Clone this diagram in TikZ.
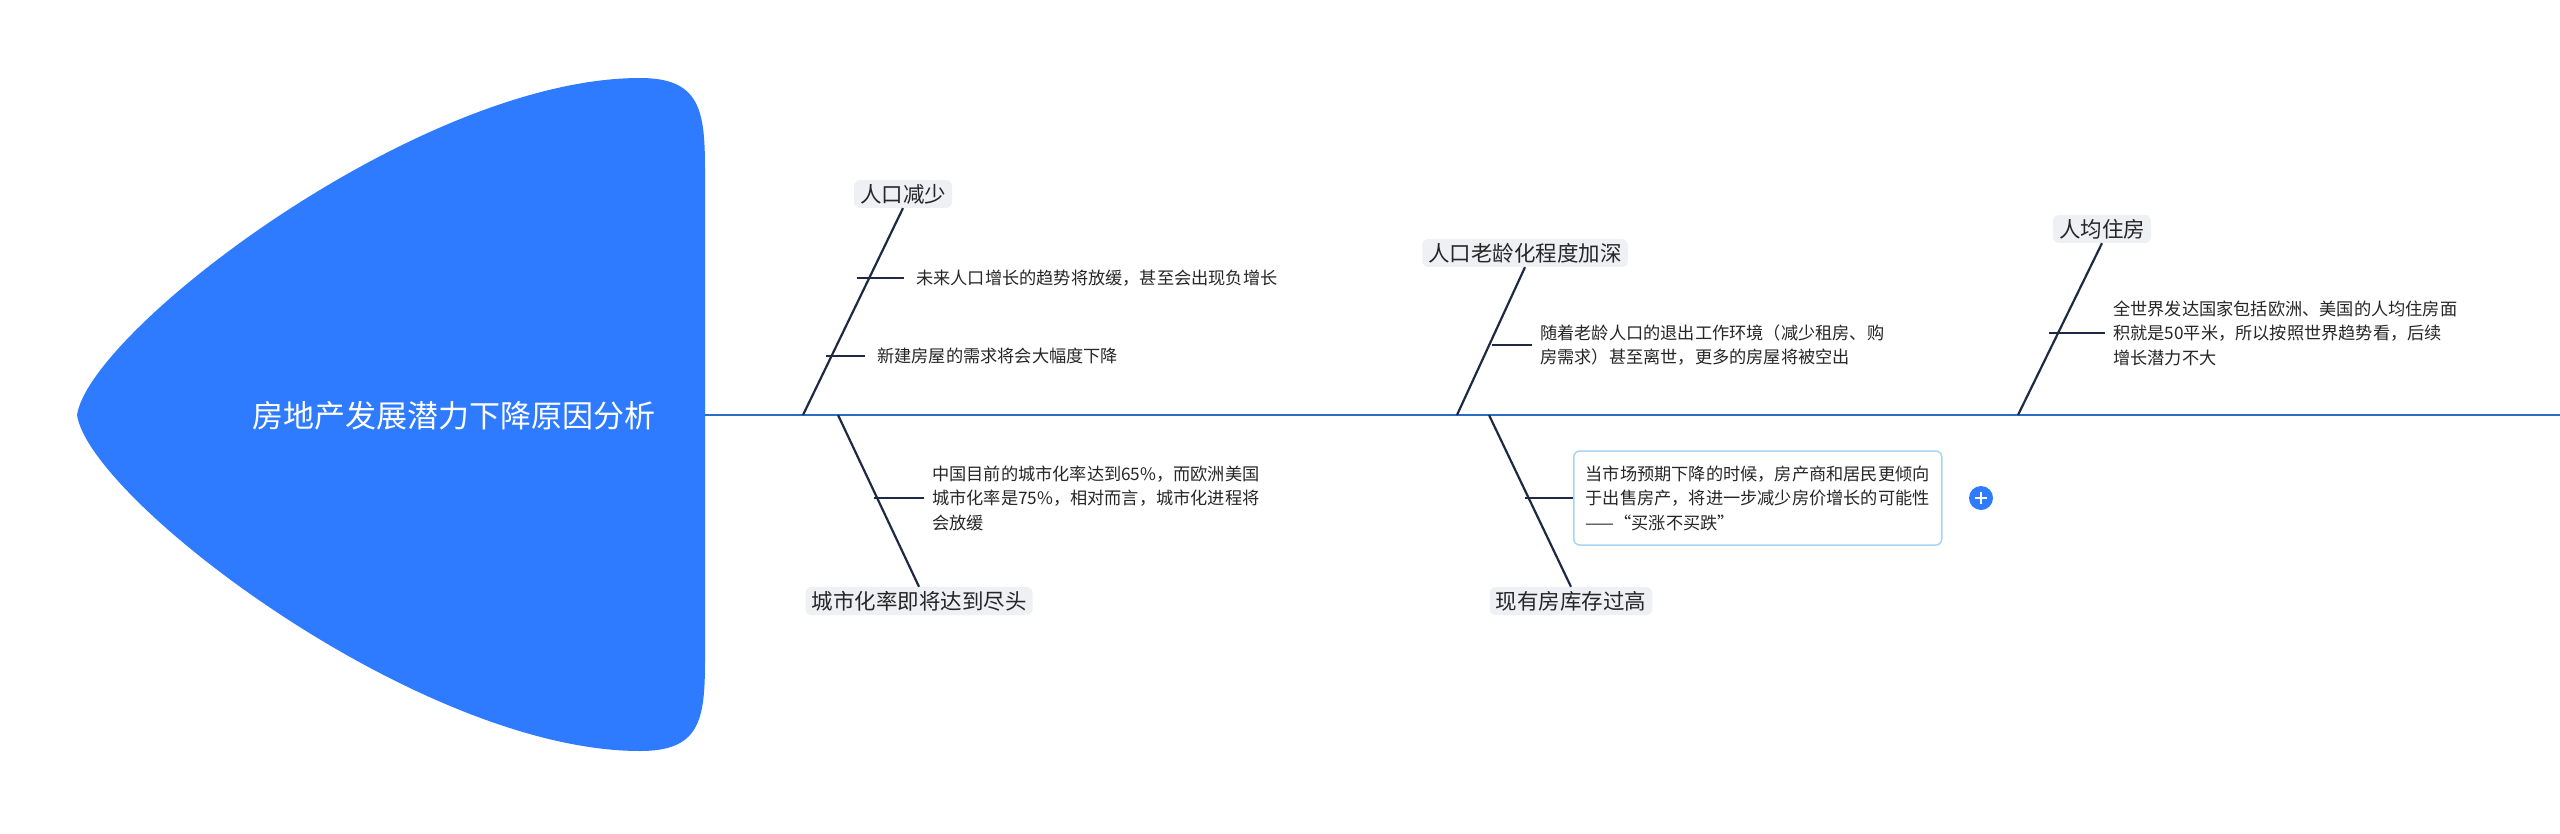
\documentclass[tikz,border=0pt]{standalone}
\usepackage{fontspec}
\setmainfont{Noto Sans CJK SC}
\begin{document}
\begin{tikzpicture}[x=1pt,y=-1pt,
  bone/.style={draw=bonec,line width=2.2pt},
  tick/.style={draw=bonec,line width=2.6pt},
  cat/.style={fill=catbg,rounded corners=6pt,inner xsep=6pt,inner ysep=4pt,font=\fontsize{21.5}{24}\selectfont,text=black!85},
  sub/.style={anchor=west,align=left,inner sep=0pt,font=\fontsize{17.2}{24.5}\selectfont,text=black!85}]
\definecolor{bonec}{HTML}{1E2A44}
\definecolor{catbg}{HTML}{EEF0F3}
\definecolor{headc}{HTML}{2E7BFF}
\definecolor{spinec}{HTML}{2B6CC4}
\definecolor{boxc}{HTML}{A6D4F2}
\useasboundingbox (0,0) rectangle (2560,833);
\fill[headc] (77,415) .. controls (90,330) and (420,78) .. (640,78) .. controls (700,78) and (705,110) .. (705,170) -- (705,660) .. controls (705,720) and (700,751) .. (640,751) .. controls (420,751) and (90,500) .. (77,415) -- cycle;
\node[text=white,font=\fontsize{31}{36}\selectfont] (title) at (454,416) {房地产发展潜力下降原因分析};
\coordinate (s0) at (705,415); \coordinate (s1) at (2560,415);
\draw[spinec,line width=2.4pt] (s0) -- (s1);
% branch 1 top
\coordinate (b1) at (803,415);
\node[cat] (c1) at (903,194) {人口减少};
\draw[bone] (b1) -- (c1.south);
\coordinate (t1a) at (857,278); \coordinate (t1b) at (826,356);
\node[sub] (x1a) at (916,278) {未来人口增长的趋势将放缓，甚至会出现负增长};
\node[sub] (x1b) at (877,356) {新建房屋的需求将会大幅度下降};
\draw[tick] (t1a) -- ([xshift=-12pt]x1a.west);
\draw[tick] (t1b) -- ([xshift=-12pt]x1b.west);
% branch 1 bottom
\coordinate (b2) at (838,415);
\node[cat] (c2) at (919,601) {城市化率即将达到尽头};
\draw[bone] (b2) -- (c2.north);
\coordinate (t2) at (874,498);
\node[sub] (x2) at (932,498) {中国目前的城市化率达到65\%，而欧洲美国\\城市化率是75\%，相对而言，城市化进程将\\会放缓};
\draw[tick] (t2) -- ([xshift=-8pt]x2.west);
% branch 2 top
\coordinate (b3) at (1457,415);
\node[cat] (c3) at (1525,253) {人口老龄化程度加深};
\draw[bone] (b3) -- (c3.south);
\coordinate (t3) at (1492,345);
\node[sub] (x3) at (1540,345) {随着老龄人口的退出工作环境（减少租房、购\\房需求）甚至离世，更多的房屋将被空出};
\draw[tick] (t3) -- ([xshift=-8pt]x3.west);
% branch 2 bottom
\coordinate (b4) at (1489,415);
\node[cat] (c4) at (1571,601) {现有房库存过高};
\draw[bone] (b4) -- (c4.north);
\coordinate (t4) at (1525,498);
\node[draw=boxc,line width=1.5pt,rounded corners=6pt,anchor=west,align=left,inner xsep=12pt,inner ysep=9pt,font=\fontsize{17.2}{24.5}\selectfont,text=black!85,minimum height=94pt] (x4) at (1573,498) {当市场预期下降的时候，房产商和居民更倾向\\于出售房产，将进一步减少房价增长的可能性\\——“买涨不买跌”};
\draw[tick] (t4) -- (x4.west);
\node[circle,fill=headc,minimum size=24pt,inner sep=0pt] (plus) at (1981,498) {};
\draw[white,line width=2pt] ([xshift=-6pt]plus.center) -- ([xshift=6pt]plus.center) ([yshift=-6pt]plus.center) -- ([yshift=6pt]plus.center);
% branch 3 top
\coordinate (b5) at (2018,415);
\node[cat] (c5) at (2102,229) {人均住房};
\draw[bone] (b5) -- (c5.south);
\coordinate (t5) at (2049,333);
\node[sub] (x5) at (2113,333) {全世界发达国家包括欧洲、美国的人均住房面\\积就是50平米，所以按照世界趋势看，后续\\增长潜力不大};
\draw[tick] (t5) -- ([xshift=-8pt]x5.west);
\end{tikzpicture}
\end{document}
